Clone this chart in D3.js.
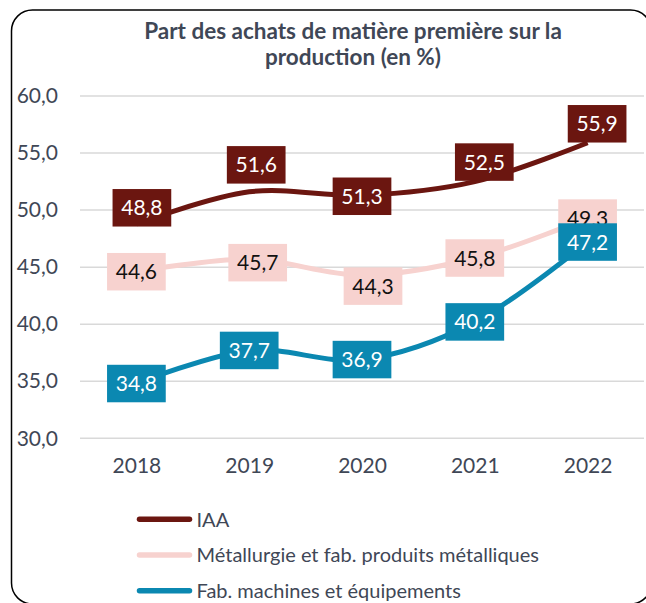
<!DOCTYPE html>
<html>
<head>
<meta charset="utf-8">
<script src="https://cdn.jsdelivr.net/npm/d3@7"></script>
<style>
    body { margin: 0; background: #fff; }
    text { font-family: Lato, "Open Sans", sans-serif; }
</style>
</head>
<body>
<div id="chart-area"></div>
<script>

// values
var years = ["2018", "2019", "2020", "2021", "2022"];
var seriesNames = ["IAA", "Métallurgie et fab. produits métalliques", "Fab. machines et équipements"];
var iaa = [48.8, 51.6, 51.3, 52.5, 55.9];
var metallurgie = [44.6, 45.7, 44.3, 45.8, 49.3];
var machines = [34.8, 37.7, 36.9, 40.2, 47.2];
var yTicks = [30, 35, 40, 45, 50, 55, 60];
var titleLines = ["Part des achats de matière première sur la", "production (en %)"];

// styling
var colors = ["#6b1610", "#f7d2cf", "#0b88b1"];
var labelText = ["#ffffff", "#111111", "#ffffff"];
var textColor = "#3f4756";

// labels that were dragged off their point in the original (px)
var labelNudge = [
    [[5.5, -16], [7, -27], [0, 1], [9.5, -19.5], [9.5, -19]],
    [[0, 0], [8.5, 3.5], [11, 11], [0, 0], [0, 0]],
    [[0, 0], [0, 0], [0, 0], [0, 0], [0, 0]]
];

var series = [iaa, metallurgie, machines].map(function(values, i) {
    return {
        name: seriesNames[i],
        values: values.map(function(v, j) { return {year: years[j], value: v, nudge: labelNudge[i][j]}; })
    };
});

var width = 646, height = 603;

var svg = d3.select("#chart-area").append("svg")
    .attr("width", width)
    .attr("height", height);

// chart border
svg.append("rect")
    .attr("x", 11.5)
    .attr("y", 10)
    .attr("width", 640)
    .attr("height", 594)
    .attr("rx", 21)
    .attr("fill", "#fff")
    .attr("stroke", "#000")
    .attr("stroke-width", 1.5);

// title
svg.append("text")
    .attr("x", 353)
    .attr("y", 39)
    .attr("text-anchor", "middle")
    .style("font-size", "22.5px")
    .style("font-weight", "bold")
    .attr("fill", textColor)
    .selectAll("tspan")
    .data(titleLines)
    .enter().append("tspan")
    .attr("x", 353)
    .attr("dy", function(d, i) { return i == 0 ? 0 : 26; })
    .text(function(d) { return d; });

var x = d3.scalePoint()
    .domain(years)
    .range([80, 644])
    .padding(0.5);

var y = d3.scaleLinear()
    .domain([30, 60])
    .range([438.3, 96]);

var locale = d3.formatLocale({decimal: ",", thousands: " ", grouping: [3], currency: ["", " €"]});
var fmt = locale.format(".1f");

// gridlines
svg.append("g")
    .selectAll("line")
    .data(yTicks)
    .enter().append("line")
    .attr("x1", 80)
    .attr("x2", 644)
    .attr("y1", function(d) { return y(d); })
    .attr("y2", function(d) { return y(d); })
    .attr("stroke", "#d9d9d9")
    .attr("stroke-width", 1.5);

// y axis
var yAxis = d3.axisLeft(y)
    .tickValues(yTicks)
    .tickFormat(fmt)
    .tickSize(0)
    .tickPadding(0);

var yGroup = svg.append("g")
    .attr("class", "axis y-axis")
    .attr("transform", "translate(58,0)")
    .call(yAxis);

yGroup.select(".domain").remove();
yGroup.selectAll("text")
    .style("font-size", "21px")
    .style("font-family", "Lato, sans-serif")
    .attr("fill", textColor);

// x axis
var xAxis = d3.axisBottom(x)
    .tickSize(0)
    .tickPadding(0);

var xGroup = svg.append("g")
    .attr("class", "axis x-axis")
    .attr("transform", "translate(0,458)")
    .call(xAxis);

xGroup.select(".domain").remove();
xGroup.selectAll("text")
    .style("font-size", "21px")
    .style("font-family", "Lato, sans-serif")
    .attr("fill", textColor);

// lines
var line = d3.line()
    .curve(d3.curveCardinal.tension(0))
    .x(function(d) { return x(d.year); })
    .y(function(d) { return y(d.value); });

svg.append("g")
    .selectAll("path")
    .data(series)
    .enter().append("path")
    .attr("d", function(d) { return line(d.values); })
    .attr("fill", "none")
    .attr("stroke", function(d, i) { return colors[i]; })
    .attr("stroke-width", 5)
    .attr("stroke-linejoin", "round");

// data labels
var boxW = 58.7, boxH = 37.5;

series.forEach(function(s, i) {
    var lab = svg.append("g")
        .selectAll("g")
        .data(s.values)
        .enter().append("g")
        .attr("transform", function(d) {
            return "translate(" + (x(d.year) + d.nudge[0]) + "," + (y(d.value) + d.nudge[1]) + ")";
        });

    lab.append("rect")
        .attr("x", -boxW / 2)
        .attr("y", -boxH / 2)
        .attr("width", boxW)
        .attr("height", boxH)
        .attr("fill", colors[i]);

    lab.append("text")
        .attr("text-anchor", "middle")
        .attr("dy", "0.36em")
        .style("font-size", "21px")
        .attr("fill", labelText[i])
        .text(function(d) { return fmt(d.value); });
});

// legend
var legend = svg.append("g")
    .selectAll("g")
    .data(series)
    .enter().append("g")
    .attr("transform", function(d, i) { return "translate(137," + (519.3 + i * 35.7) + ")"; });

legend.append("line")
    .attr("x1", 2.5)
    .attr("x2", 52.5)
    .attr("stroke", function(d, i) { return colors[i]; })
    .attr("stroke-width", 5.5)
    .attr("stroke-linecap", "round");

legend.append("text")
    .attr("x", 59.5)
    .attr("dy", "0.36em")
    .style("font-size", "20px")
    .attr("fill", textColor)
    .text(function(d) { return d.name; });

</script>
</body>
</html>
